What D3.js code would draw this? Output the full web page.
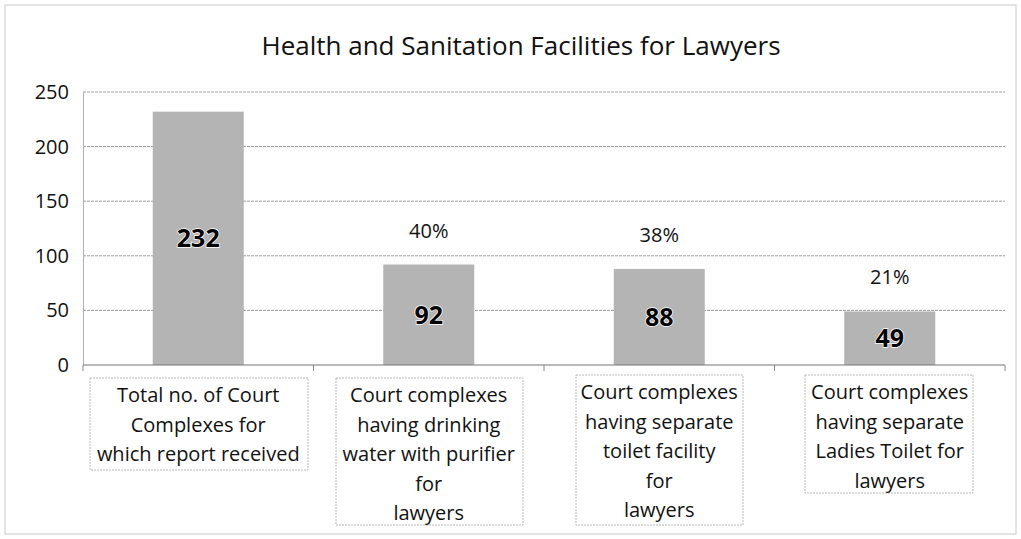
<!DOCTYPE html>
<html>
<head>
<meta charset="utf-8">
<script src="https://cdn.jsdelivr.net/npm/d3@7"></script>
<style>
body{margin:0;background:#fff;}
svg{display:block;font-family:"Open Sans",sans-serif;}
</style>
</head>
<body>
<svg id="canvas" width="1021" height="539"></svg>
<script>
let categories=[
  ["Total no. of Court","Complexes for","which report received"],
  ["Court complexes","having drinking","water with purifier","for","lawyers"],
  ["Court complexes","having separate","toilet facility","for","lawyers"],
  ["Court complexes","having separate","Ladies Toilet for","lawyers"]
];
let values=[232,92,88,49];
let percents=["","40%","38%","21%"];
let yTicks=[0,50,100,150,200,250];

let canvas=d3.select("#canvas");
let w=1021, h=539;

// outer frame
canvas.append("rect").attr("x",5).attr("y",5).attr("width",w-10).attr("height",h-10)
  .attr("fill","none").attr("stroke","#c8c8c8").attr("stroke-width",1);

canvas.append("text").text("Health and Sanitation Facilities for Lawyers")
  .attr("x",521).attr("y",55).attr("text-anchor","middle")
  .style("font-size","26px").style("fill","#111");

let xScale=d3.scaleBand().domain(d3.range(values.length)).range([83,1005]).padding(0);
let yScale=d3.scaleLinear().domain([0,250]).range([365,92]);

// grid
canvas.selectAll(".grid").data(yTicks.slice(1)).enter().append("line")
  .attr("x1",83).attr("x2",1005)
  .attr("y1",d=>yScale(d)).attr("y2",d=>yScale(d))
  .attr("stroke","#9a9a9a").attr("stroke-width",1).attr("stroke-dasharray","3,1");

// y axis
let yAxis=d3.axisLeft(yScale).tickValues(yTicks).tickSize(0).tickPadding(14);
let gy=canvas.append("g").attr("transform","translate(83,0)").call(yAxis);
gy.select(".domain").attr("stroke","#b0b0b0");
gy.selectAll("text").style("font-size","20px").style("fill","#111").style("font-family","'Open Sans',sans-serif");

// bars
let bw=91;
canvas.selectAll(".bar").data(values).enter().append("rect")
  .attr("x",(d,i)=>xScale(i)+xScale.bandwidth()/2-bw/2)
  .attr("y",d=>yScale(d)).attr("width",bw).attr("height",d=>yScale(0)-yScale(d))
  .attr("fill","#b4b4b4");

// x axis line and ticks
canvas.append("line").attr("x1",83).attr("x2",1005).attr("y1",365).attr("y2",365)
  .attr("stroke","#777").attr("stroke-width",1.2);
canvas.selectAll(".xt").data(d3.range(values.length+1)).enter().append("line")
  .attr("x1",i=>83+i*xScale.bandwidth()).attr("x2",i=>83+i*xScale.bandwidth())
  .attr("y1",365).attr("y2",371).attr("stroke","#888");

// value labels
canvas.selectAll(".val").data(values).enter().append("text")
  .text(d=>d)
  .attr("x",(d,i)=>xScale(i)+xScale.bandwidth()/2)
  .attr("y",d=>(yScale(d)+yScale(0))/2+9)
  .attr("text-anchor","middle")
  .style("font-size","25px").style("font-weight","bold").style("fill","#000")
  .style("paint-order","stroke").style("stroke","#fff").style("stroke-width","1.5px");

// percent labels
canvas.selectAll(".pct").data(values).enter().append("text")
  .text((d,i)=>percents[i])
  .attr("x",(d,i)=>xScale(i)+xScale.bandwidth()/2)
  .attr("y",d=>yScale(d)-27)
  .attr("text-anchor","middle")
  .style("font-size","20px").style("fill","#111");

// category label boxes
let boxes=[[90,378,218,92],[336,378,187,147],[576,375,167,150],[805,375,168,118]];
categories.forEach((lines,i)=>{
  let b=boxes[i];
  canvas.append("rect").attr("x",b[0]).attr("y",b[1]).attr("width",b[2]).attr("height",b[3])
    .attr("fill","none").attr("stroke","#b8b8b8").attr("stroke-dasharray","2,1");
  let cx=xScale(i)+xScale.bandwidth()/2;
  lines.forEach((t,j)=>{
    canvas.append("text").text(t).attr("x",cx).attr("y",b[1]+24+j*29.5)
      .attr("text-anchor","middle").style("font-size","20px").style("fill","#111");
  });
});
</script>
</body>
</html>
